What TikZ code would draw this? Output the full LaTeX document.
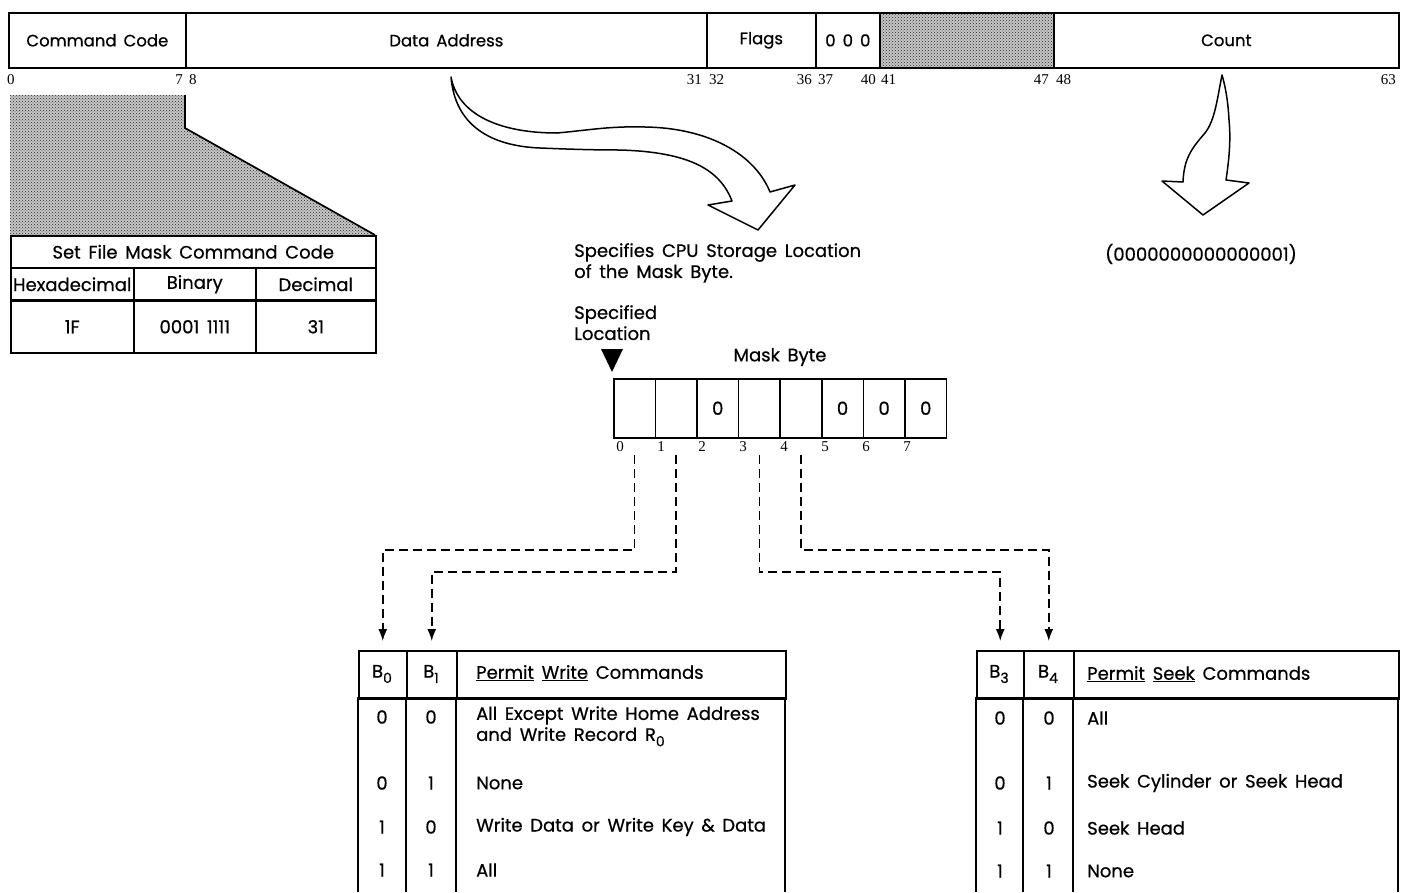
\documentclass[tikz,border=0pt]{standalone}
\usepackage{fontspec}
\setmainfont{Poppins}[FakeBold=0.6,WordSpace=1.6]
\newfontfamily\numfont{Liberation Serif}
\newcommand\sub[1]{\raisebox{-0.3em}{\fontsize{14}{14}\selectfont #1}}
\usetikzlibrary{arrows.meta,patterns,calc}
\begin{document}
\begin{tikzpicture}[x=1pt,y=-1pt,
  font=\fontsize{18}{21}\selectfont,
  cell/.style={draw, line width=1.7pt, anchor=north west, inner sep=0pt, font=\fontsize{16.5}{20}\selectfont},
  tcell/.style={draw, line width=1.5pt, anchor=north west, inner sep=0pt},
  bitnum/.style={font=\numfont\fontsize{15}{15}\selectfont, inner sep=0pt},
  plain/.style={inner sep=0pt},
  lefttxt/.style={inner sep=0pt, anchor=west},
  dasharrow/.style={dash pattern=on 9pt off 5pt, line width=1.6pt, -{Latex[length=12pt,width=9pt]}, shorten >=9pt},
  hollow/.style={line width=1.5pt, fill=white, line join=round},
  shade/.style={preaction={fill=black!22}, pattern=crosshatch dots, pattern color=black!85}]
\useasboundingbox (0,0) rectangle (1406,892);

% ---------- top word ----------
\node[cell, minimum width=177, minimum height=55] (cc) at (8,12) {Command Code};
\node[cell, minimum width=521, minimum height=55] (da) at (185,12) {Data Address};
\node[cell, minimum width=109, minimum height=55] (fl) at (706,12) {Flags};
\node[cell, minimum width=64, minimum height=55] (zz) at (815,12) {0 0 0};
\node[cell, minimum width=174, minimum height=55, shade] (sh) at (879,12) {};
\node[cell, minimum width=345, minimum height=55] (ct) at (1053,12) {Count};

\node[bitnum, anchor=west] (n0) at (7,80) {0};
\node[bitnum, anchor=east] (n7) at (183,80) {7};
\node[bitnum, anchor=west] (n8) at (189,80) {8};
\node[bitnum, anchor=east] (n31) at (702,80) {31};
\node[bitnum, anchor=west] (n32) at (709,80) {32};
\node[bitnum, anchor=east] (n36) at (812,80) {36};
\node[bitnum, anchor=west] (n37) at (818,80) {37};
\node[bitnum, anchor=east] (n40) at (876,80) {40};
\node[bitnum, anchor=west] (n41) at (881,80) {41};
\node[bitnum, anchor=east] (n47) at (1049,80) {47};
\node[bitnum, anchor=west] (n48) at (1056,80) {48};
\node[bitnum, anchor=east] (n63) at (1396,80) {63};

% ---------- command code expansion ----------
\path[shade] (10,95) -- (185,95) -- (185,128) -- (375,235) -- (10,235) -- cycle;
\draw[line width=1.7pt] (185,95) -- (185,128) -- (375,235);

\node[tcell, minimum width=365, minimum height=32] (tt) at (10,235) {Set File Mask Command Code};
\node[tcell, minimum width=123, minimum height=33] (hx) at (10,267) {Hexadecimal};
\node[tcell, minimum width=122, minimum height=33] (bn) at (133,267) {Binary};
\node[tcell, minimum width=120, minimum height=33] (dc) at (255,267) {Decimal};
\node[tcell, minimum width=123, minimum height=52] (hxv) at (10,300) {1F};
\node[tcell, minimum width=122, minimum height=52] (bnv) at (133,300) {0001 1111};
\node[tcell, minimum width=120, minimum height=52] (dcv) at (255,300) {31};
\draw[line width=2.4pt] (10,300) -- (375,300);

% ---------- data address arrow ----------
\draw[hollow] (451,77) .. controls (458,115) and (500,133) .. (557,133)
  .. controls (590,130) and (610,126) .. (645,127)
  .. controls (710,128) and (755,155) .. (770,192)
  -- (795,185) -- (758,230) -- (708,205) -- (732,201)
  .. controls (720,170) and (690,152) .. (620,150)
  .. controls (590,150) and (565,149) .. (540,148)
  .. controls (490,146) and (455,125) .. (451,77) -- cycle;

\node[anchor=north west, align=left, inner sep=0pt] (spec) at (574,243) {Specifies CPU Storage Location\\of the Mask Byte.};

% ---------- count arrow ----------
\draw[hollow] (1222,75) .. controls (1217,100) and (1215,120) .. (1205,133)
  .. controls (1190,150) and (1184,160) .. (1183,182)
  -- (1162,181) -- (1203,215) -- (1249,183) -- (1226,180)
  .. controls (1229,160) and (1231,140) .. (1229,120)
  .. controls (1228,100) and (1225,85) .. (1222,75) -- cycle;
\node[plain] (cv) at (1201,254) {(0000000000000001)};

% ---------- mask byte ----------
\node[anchor=north west, align=left, inner sep=0pt] (sl) at (574,305) {Specified\\Location};
\fill (601,349) -- (623,349) -- (612,372) -- cycle;
\node[plain] (mb) at (780,357) {Mask Byte};

\node[tcell, minimum width=41.6, minimum height=59] (m0) at (613,378) {};
\node[tcell, minimum width=41.6, minimum height=59] (m1) at (654.6,378) {};
\node[tcell, minimum width=41.6, minimum height=59] (m2) at (696.2,378) {0};
\node[tcell, minimum width=41.6, minimum height=59] (m3) at (737.8,378) {};
\node[tcell, minimum width=41.6, minimum height=59] (m4) at (779.4,378) {};
\node[tcell, minimum width=41.6, minimum height=59] (m5) at (821,378) {0};
\node[tcell, minimum width=41.6, minimum height=59] (m6) at (862.6,378) {0};
\node[tcell, minimum width=41.6, minimum height=59] (m7) at (904.2,378) {0};

\node[bitnum] (k0) at (620,447) {0};
\node[bitnum] (k1) at (661,447) {1};
\node[bitnum] (k2) at (702,447) {2};
\node[bitnum] (k3) at (743,447) {3};
\node[bitnum] (k4) at (784,447) {4};
\node[bitnum] (k5) at (825,447) {5};
\node[bitnum] (k6) at (866,447) {6};
\node[bitnum] (k7) at (907,447) {7};

% ---------- permit write table ----------
\node[tcell, minimum width=48, minimum height=48] (w0) at (358,650) {};
\node[tcell, minimum width=50, minimum height=48] (w1) at (406,650) {};
\node[tcell, minimum width=329, minimum height=48] (wh) at (456,650) {};
\node[plain] (w0t) at (382,674) {B\sub{0}};
\node[plain] (w1t) at (431,674) {B\sub{1}};
\node[lefttxt] (wht) at (476,673) {\underline{Permit} \underline{Write} Commands};
\draw[line width=1.5pt] (358,892) -- (358,698) -- (785,698) -- (785,892);
\draw[line width=1.5pt] (406,698) -- (406,892) (456,698) -- (456,892);

\node[plain] (wa0) at (382,717) {0}; \node[plain] (wb0) at (431,717) {0};
\node[anchor=north west, align=left, inner sep=0pt] (wc0) at (476,706) {All Except Write Home Address\\and Write Record R\sub{0}};
\node[plain] (wa1) at (382,783) {0}; \node[plain] (wb1) at (431,783) {1};
\node[lefttxt] (wc1) at (476,783) {None};
\node[plain] (wa2) at (382,827) {1}; \node[plain] (wb2) at (431,827) {0};
\node[lefttxt] (wc2) at (476,827) {Write Data or Write Key \& Data};
\node[plain] (wa3) at (382,870) {1}; \node[plain] (wb3) at (431,870) {1};
\node[lefttxt] (wc3) at (476,870) {All};

% ---------- permit seek table ----------
\node[tcell, minimum width=47, minimum height=48] (s3) at (976,650) {};
\node[tcell, minimum width=50, minimum height=48] (s4) at (1023,650) {};
\node[tcell, minimum width=325, minimum height=48] (sh2) at (1073,650) {};
\node[plain] (s3t) at (999,674) {B\sub{3}};
\node[plain] (s4t) at (1048,674) {B\sub{4}};
\node[lefttxt] (sht) at (1087,674) {\underline{Permit} \underline{Seek} Commands};
\draw[line width=1.5pt] (976,892) -- (976,698) -- (1398,698) -- (1398,892);
\draw[line width=1.5pt] (1023,698) -- (1023,892) (1073,698) -- (1073,892);

\node[plain] (sa0) at (1000,718) {0}; \node[plain] (sb0) at (1049,718) {0};
\node[lefttxt] (sc0) at (1087,718) {All};
\node[plain] (sa1) at (1000,783) {0}; \node[plain] (sb1) at (1049,783) {1};
\node[lefttxt] (sc1) at (1087,783) {Seek Cylinder or Seek Head};
\node[plain] (sa2) at (1000,828) {1}; \node[plain] (sb2) at (1049,828) {0};
\node[lefttxt] (sc2) at (1087,828) {Seek Head};
\node[plain] (sa3) at (1000,871) {1}; \node[plain] (sb3) at (1049,871) {1};
\node[lefttxt] (sc3) at (1087,871) {None};

% ---------- dashed connectors ----------
\draw[dasharrow] (m0 |- 0,455) -- (m0 |- 0,550) -| (w0.north);
\draw[dasharrow] (m1 |- 0,455) -- (m1 |- 0,572) -| (w1.north);
\draw[dasharrow] (m3 |- 0,455) -- (m3 |- 0,572) -| (s3.north);
\draw[dasharrow] (m4 |- 0,455) -- (m4 |- 0,550) -| (s4.north);
\end{tikzpicture}
\end{document}
